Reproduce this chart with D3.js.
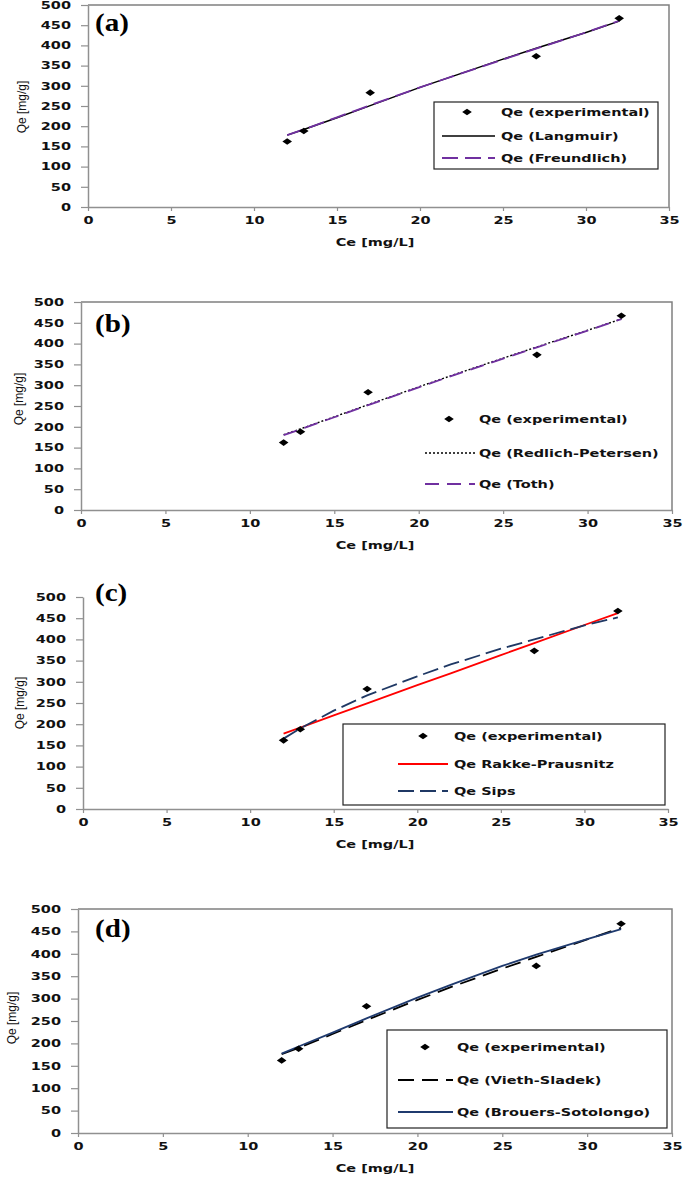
<!DOCTYPE html>
<html>
<head>
<meta charset="utf-8">
<script src="https://cdn.jsdelivr.net/npm/d3@7"></script>
<style>
  body { margin: 0; background: #fff; }
  svg { display: block; }
</style>
</head>
<body>
<div id="chart"></div>
<script>
// experimental points
const ce = [12, 13, 17, 27, 32];
const qeExp = [162, 188, 283, 373, 467];

// model curves
const ceFit = [12, 13, 15, 17, 20, 22, 25, 27, 30, 32];
const qeLangmuir = [178, 192, 221, 251, 296, 324, 366, 393, 432, 460];
const qeFreundlich = [178, 192, 222, 252, 296, 324, 365, 392, 432, 461];
const qeRedlich = [181, 195, 224, 253, 296, 324, 365, 392, 432, 459];
const qeToth = [180, 194, 223, 252, 295, 323, 364, 391, 431, 459];
const qeRakke = [178, 192, 221, 249, 292, 320, 363, 391, 434, 462];
const qeSips = [166, 190, 232, 268, 313, 341, 378, 400, 433, 452];
const qeVieth = [176, 190, 221, 252, 297, 326, 367, 393, 432, 458];
const qeBrouers = [177, 193, 224, 256, 302, 331, 373, 398, 433, 455];

const xTicks = [0, 5, 10, 15, 20, 25, 30, 35];
const yTicks = [0, 50, 100, 150, 200, 250, 300, 350, 400, 450, 500];

const SX = 1.45; // the figure is stretched sideways
const font = "'DejaVu Sans', sans-serif";

const panels = [
  {
    label: "(a)", x0: 88, x1: 669, yTop: 5, yBot: 207, frame: true,
    labelY: 31, ylabX: 22, ylabY: 107,
    legend: { box: [434, 102, 658, 169], rows: [112, 136, 158], mx: 467, lx: [442, 495], tx: 501 },
    series: [
      { name: "Qe (Langmuir)", values: qeLangmuir, color: "#000", dash: null, width: 1.5 },
      { name: "Qe (Freundlich)", values: qeFreundlich, color: "#7030A0", dash: "16,7", width: 1.8 }
    ]
  },
  {
    label: "(b)", x0: 81, x1: 672, yTop: 302, yBot: 510, frame: true,
    labelY: 332, ylabX: 19, ylabY: 399,
    legend: { box: null, rows: [419, 453, 484], mx: 449, lx: [425, 475], tx: 479 },
    series: [
      { name: "Qe (Redlich-Petersen)", values: qeRedlich, color: "#000", dash: "2,2", width: 1.4 },
      { name: "Qe (Toth)", values: qeToth, color: "#7030A0", dash: "14,8", width: 1.8 }
    ]
  },
  {
    label: "(c)", x0: 83, x1: 668, yTop: 597, yBot: 809, frame: false,
    labelY: 601, ylabX: 20, ylabY: 703,
    legend: { box: [343, 724, 665, 805], rows: [736, 764, 791], mx: 423, lx: [398, 448], tx: 454 },
    series: [
      { name: "Qe Rakke-Prausnitz", values: qeRakke, color: "#ff0000", dash: null, width: 1.8 },
      { name: "Qe Sips", values: qeSips, color: "#1F3864", dash: "16,6", width: 1.8 }
    ]
  },
  {
    label: "(d)", x0: 78, x1: 672, yTop: 909, yBot: 1133, frame: true,
    labelY: 937, ylabX: 12, ylabY: 1018,
    legend: { box: [387, 1030, 667, 1128], rows: [1047, 1080, 1112], mx: 425, lx: [398, 453], tx: 457 },
    series: [
      { name: "Qe (Vieth-Sladek)", values: qeVieth, color: "#000", dash: "16,8", width: 1.8 },
      { name: "Qe (Brouers-Sotolongo)", values: qeBrouers, color: "#1F3A6E", dash: null, width: 1.8 }
    ]
  }
];

const svg = d3.select("#chart")
  .append("svg")
  .attr("width", 685)
  .attr("height", 1179);

svg.append("rect").attr("width", 685).attr("height", 1179).attr("fill", "#fff");

function diamond(g, x, y) {
  g.append("path")
    .attr("d", d3.symbol(d3.symbolSquare, 22)())
    .attr("transform", `translate(${x},${y}) scale(${SX},1) rotate(45)`)
    .attr("fill", "#000");
}

function label(g, x, y, txt, anchor) {
  return g.append("text")
    .attr("transform", `translate(${x},${y}) scale(${SX},1)`)
    .attr("text-anchor", anchor || "start")
    .attr("dy", "0.35em")
    .style("font-family", font)
    .style("font-weight", "bold")
    .style("font-size", "10px")
    .style("fill", "#111")
    .text(txt);
}

panels.forEach(function (p) {
  const x = d3.scaleLinear().domain([0, 35]).range([p.x0, p.x1]);
  const y = d3.scaleLinear().domain([0, 500]).range([p.yBot, p.yTop]);
  const g = svg.append("g");

  // frame (top + right)
  if (p.frame) {
    g.append("path")
      .attr("d", `M${p.x0},${p.yTop}H${p.x1}V${p.yBot}`)
      .attr("fill", "none")
      .attr("stroke", "#808080")
      .attr("stroke-width", 1.5);
  }

  // axes
  const yAxis = g.append("g")
    .attr("transform", `translate(${p.x0},0)`)
    .call(d3.axisLeft(y).tickValues(yTicks).tickSize(7).tickSizeOuter(0));
  const xAxis = g.append("g")
    .attr("transform", `translate(0,${p.yBot})`)
    .call(d3.axisBottom(x).tickValues(xTicks).tickSize(4).tickSizeOuter(0));

  [yAxis, xAxis].forEach(function (a) {
    a.select(".domain").attr("stroke", "#909090").attr("stroke-width", 1.5);
    a.selectAll(".tick line").attr("stroke", "#909090").attr("stroke-width", 1.2);
    a.selectAll("text")
      .style("font-family", font)
      .style("font-weight", "bold")
      .style("font-size", "10px")
      .style("fill", "#111");
  });
  yAxis.selectAll("text")
    .attr("x", -17 / SX)
    .attr("transform", `scale(${SX},1)`);
  xAxis.selectAll("text")
    .attr("y", 10)
    .attr("transform", `scale(${SX},1)`);

  // axis titles
  label(g, 375, p.yBot + 35, "Ce [mg/L]", "middle");
  g.append("text")
    .attr("transform", `translate(${p.ylabX},${p.ylabY}) rotate(-90)`)
    .attr("text-anchor", "middle")
    .attr("dy", "0.35em")
    .style("font-family", "'Liberation Sans', Arial, sans-serif")
    .style("font-size", "12px")
    .style("fill", "#111")
    .text("Qe [mg/g]");

  // panel letter
  g.append("text")
    .attr("transform", `translate(95,${p.labelY}) scale(1.12,1)`)
    .style("font-family", "'Liberation Serif', 'Times New Roman', serif")
    .style("font-weight", "bold")
    .style("font-size", "26px")
    .style("fill", "#000")
    .text(p.label);

  // model lines
  const line = d3.line()
    .x((d, i) => x(ceFit[i]))
    .y(d => y(d));
  p.series.forEach(function (s) {
    g.append("path")
      .datum(s.values)
      .attr("d", line)
      .attr("fill", "none")
      .attr("stroke", s.color)
      .attr("stroke-width", s.width)
      .attr("stroke-dasharray", s.dash);
  });

  // experimental points
  ce.forEach(function (c, i) {
    diamond(g, x(c), y(qeExp[i]));
  });

  // legend
  const L = p.legend;
  const lg = g.append("g");
  if (L.box) {
    lg.append("rect")
      .attr("x", L.box[0]).attr("y", L.box[1])
      .attr("width", L.box[2] - L.box[0])
      .attr("height", L.box[3] - L.box[1])
      .attr("fill", "#fff")
      .attr("stroke", "#222")
      .attr("stroke-width", 1.2);
  }
  diamond(lg, L.mx, L.rows[0]);
  label(lg, L.tx, L.rows[0], "Qe (experimental)");
  p.series.forEach(function (s, i) {
    const ry = L.rows[i + 1];
    lg.append("line")
      .attr("x1", L.lx[0]).attr("x2", L.lx[1])
      .attr("y1", ry).attr("y2", ry)
      .attr("stroke", s.color)
      .attr("stroke-width", s.width)
      .attr("stroke-dasharray", s.dash);
    label(lg, L.tx, ry, s.name);
  });
});
</script>
</body>
</html>
